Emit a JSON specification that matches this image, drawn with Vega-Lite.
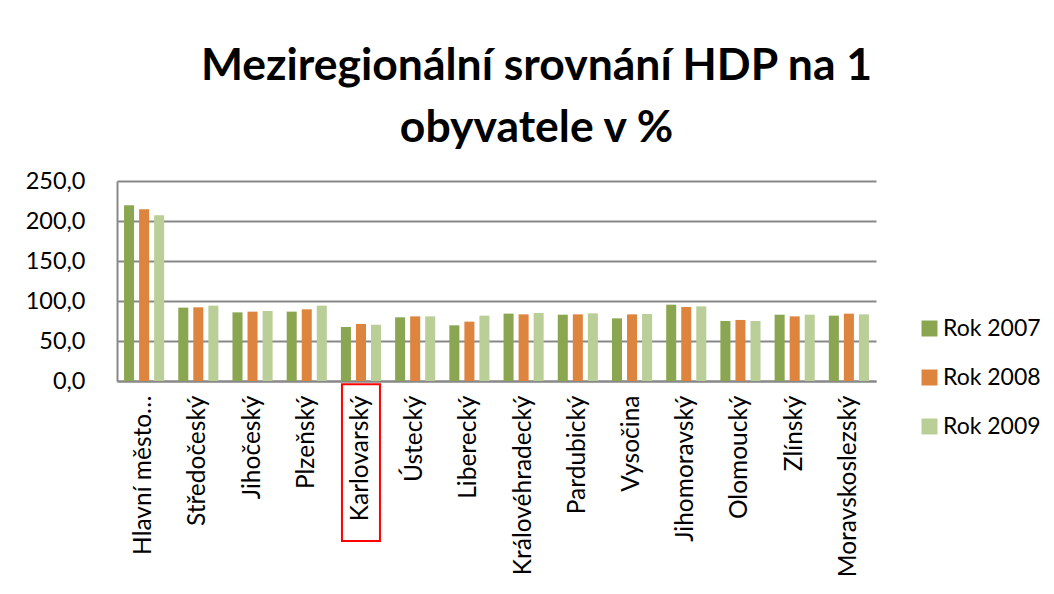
{
  "$schema": "https://vega.github.io/schema/vega-lite/v6.json",
  "autosize": "none",
  "width": 759,
  "height": 200,
  "padding": {"left": 117, "top": 181, "right": 178, "bottom": 213},
  "background": "white",
  "title": {
    "text": ["Meziregionální srovnání HDP na 1", "obyvatele v %"],
    "font": "Lato",
    "fontWeight": "bold",
    "fontSize": 44.5,
    "lineHeight": 62,
    "color": "black",
    "anchor": "middle",
    "frame": "group",
    "dx": 40,
    "offset": 18
  },
  "config": {
    "view": {"stroke": null},
    "legend": {
      "orient": "none",
      "legendX": 801,
      "legendY": 136,
      "title": null,
      "symbolType": "square",
      "symbolSize": 256,
      "symbolStrokeWidth": 0,
      "labelFont": "Lato",
      "labelFontSize": 23,
      "labelColor": "black",
      "labelOffset": 2,
      "rowPadding": 25,
      "padding": 0
    }
  },
  "datasets": {
    "hdp": [
      {"kraj": "Hlavní město Praha", "rok": "Rok 2007", "hodnota": 219.6},
      {"kraj": "Hlavní město Praha", "rok": "Rok 2008", "hodnota": 214.6},
      {"kraj": "Hlavní město Praha", "rok": "Rok 2009", "hodnota": 207.1},
      {"kraj": "Středočeský", "rok": "Rok 2007", "hodnota": 91.7},
      {"kraj": "Středočeský", "rok": "Rok 2008", "hodnota": 92.1},
      {"kraj": "Středočeský", "rok": "Rok 2009", "hodnota": 94.2},
      {"kraj": "Jihočeský", "rok": "Rok 2007", "hodnota": 85.8},
      {"kraj": "Jihočeský", "rok": "Rok 2008", "hodnota": 86.7},
      {"kraj": "Jihočeský", "rok": "Rok 2009", "hodnota": 87.5},
      {"kraj": "Plzeňský", "rok": "Rok 2007", "hodnota": 86.7},
      {"kraj": "Plzeňský", "rok": "Rok 2008", "hodnota": 89.6},
      {"kraj": "Plzeňský", "rok": "Rok 2009", "hodnota": 94.2},
      {"kraj": "Karlovarský", "rok": "Rok 2007", "hodnota": 67.5},
      {"kraj": "Karlovarský", "rok": "Rok 2008", "hodnota": 71.3},
      {"kraj": "Karlovarský", "rok": "Rok 2009", "hodnota": 70.4},
      {"kraj": "Ústecký", "rok": "Rok 2007", "hodnota": 79.6},
      {"kraj": "Ústecký", "rok": "Rok 2008", "hodnota": 80.8},
      {"kraj": "Ústecký", "rok": "Rok 2009", "hodnota": 80.8},
      {"kraj": "Liberecký", "rok": "Rok 2007", "hodnota": 69.6},
      {"kraj": "Liberecký", "rok": "Rok 2008", "hodnota": 74.2},
      {"kraj": "Liberecký", "rok": "Rok 2009", "hodnota": 81.7},
      {"kraj": "Královéhradecký", "rok": "Rok 2007", "hodnota": 84.2},
      {"kraj": "Královéhradecký", "rok": "Rok 2008", "hodnota": 83.3},
      {"kraj": "Královéhradecký", "rok": "Rok 2009", "hodnota": 85.0},
      {"kraj": "Pardubický", "rok": "Rok 2007", "hodnota": 82.9},
      {"kraj": "Pardubický", "rok": "Rok 2008", "hodnota": 83.3},
      {"kraj": "Pardubický", "rok": "Rok 2009", "hodnota": 84.6},
      {"kraj": "Vysočina", "rok": "Rok 2007", "hodnota": 78.3},
      {"kraj": "Vysočina", "rok": "Rok 2008", "hodnota": 83.3},
      {"kraj": "Vysočina", "rok": "Rok 2009", "hodnota": 83.8},
      {"kraj": "Jihomoravský", "rok": "Rok 2007", "hodnota": 95.4},
      {"kraj": "Jihomoravský", "rok": "Rok 2008", "hodnota": 92.5},
      {"kraj": "Jihomoravský", "rok": "Rok 2009", "hodnota": 93.3},
      {"kraj": "Olomoucký", "rok": "Rok 2007", "hodnota": 75.0},
      {"kraj": "Olomoucký", "rok": "Rok 2008", "hodnota": 76.3},
      {"kraj": "Olomoucký", "rok": "Rok 2009", "hodnota": 75.0},
      {"kraj": "Zlínský", "rok": "Rok 2007", "hodnota": 82.9},
      {"kraj": "Zlínský", "rok": "Rok 2008", "hodnota": 80.8},
      {"kraj": "Zlínský", "rok": "Rok 2009", "hodnota": 82.9},
      {"kraj": "Moravskoslezský", "rok": "Rok 2007", "hodnota": 81.7},
      {"kraj": "Moravskoslezský", "rok": "Rok 2008", "hodnota": 84.2},
      {"kraj": "Moravskoslezský", "rok": "Rok 2009", "hodnota": 83.3}
    ],
    "zvyrazneni": [
      {"kraj": "Karlovarský"}
    ]
  },
  "encoding": {
    "x": {
      "field": "kraj",
      "type": "nominal",
      "sort": ["Hlavní město Praha", "Středočeský", "Jihočeský", "Plzeňský", "Karlovarský", "Ústecký", "Liberecký", "Královéhradecký", "Pardubický", "Vysočina", "Jihomoravský", "Olomoucký", "Zlínský", "Moravskoslezský"],
      "scale": {"paddingInner": 0.26, "paddingOuter": 0.13},
      "axis": {
        "title": null,
        "labelAngle": -90,
        "labelFont": "Lato",
        "labelFontSize": 24.5,
        "labelColor": "black",
        "labelPadding": 14,
        "labelLimit": 300,
        "labelOverlap": false,
        "labelExpr": "datum.label == 'Hlavní město Praha' ? 'Hlavní město…' : datum.label",
        "ticks": false,
        "domainColor": "#888888",
        "domainWidth": 2
      }
    }
  },
  "resolve": {"scale": {"y": "independent"}, "axis": {"y": "independent"}},
  "layer": [
    {
      "data": {"name": "hdp"},
      "mark": {"type": "bar"},
      "encoding": {
        "xOffset": {"field": "rok", "type": "nominal", "scale": {"paddingInner": 0.333, "paddingOuter": 0}},
        "y": {
          "field": "hodnota",
          "type": "quantitative",
          "scale": {"domain": [0, 250], "nice": false},
          "axis": {
            "title": null,
            "values": [0, 50, 100, 150, 200, 250],
            "labelExpr": "replace(format(datum.value, '.1f'), '.', ',')",
            "labelFont": "Lato",
            "labelFontSize": 23.5,
            "labelColor": "black",
            "labelPadding": 32,
            "labelOverlap": false,
            "ticks": false,
            "grid": true,
            "gridColor": "#888888",
            "gridWidth": 2,
            "domainColor": "#888888",
            "domainWidth": 2
          }
        },
        "color": {
          "field": "rok",
          "type": "nominal",
          "scale": {"domain": ["Rok 2007", "Rok 2008", "Rok 2009"], "range": ["#8BA650", "#DD843E", "#BACE98"]}
        }
      }
    },
    {
      "data": {"name": "zvyrazneni"},
      "mark": {"type": "bar", "width": 38, "fill": null, "fillOpacity": 0, "stroke": "#FF0000", "strokeWidth": 2, "clip": false},
      "encoding": {
        "y": {"datum": -4, "type": "quantitative", "scale": {"domain": [0, 250], "nice": false}, "axis": null},
        "y2": {"datum": -200}
      }
    }
  ]
}
